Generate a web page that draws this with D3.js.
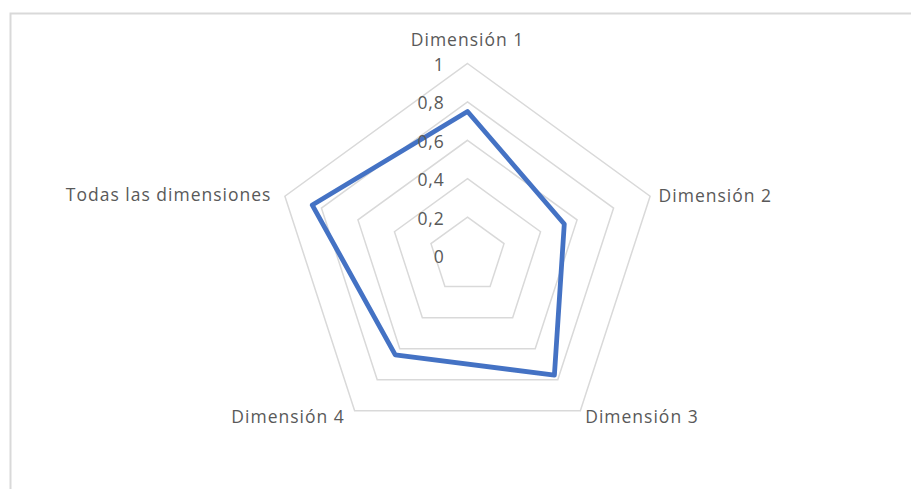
<!DOCTYPE html>
<html>
<head>
<meta charset="utf-8">
<script src="https://cdn.jsdelivr.net/npm/d3@7"></script>
<style>
  html, body { margin: 0; padding: 0; background: #fff; }
  svg text { font-family: "Open Sans", sans-serif; fill: #595959; }
</style>
</head>
<body>
<svg id="radar" width="911" height="489"></svg>
<script>
    // chart data
    var categories = ["Dimensión 1", "Dimensión 2", "Dimensión 3", "Dimensión 4", "Todas las dimensiones"];
    var values = [0.75, 0.53, 0.77, 0.64, 0.85];
    var ticks = [0, 0.2, 0.4, 0.6, 0.8, 1];
    var tickLabels = ["0", "0,2", "0,4", "0,6", "0,8", "1"];

    var width = 911, height = 489;
    var cx = 467.5, cy = 255.5, radius = 192;

    var svg = d3.select('#radar');

    // chart area frame
    svg.append('rect')
        .attr('x', 10.5).attr('y', 13.5)
        .attr('width', 940).attr('height', 520)
        .attr('fill', 'none')
        .attr('stroke', '#d9d9d9')
        .attr('stroke-width', 2);

    var g = svg.append('g')
        .attr('transform', 'translate(' + cx + ',' + cy + ')');

    var r = d3.scaleLinear().domain([0, 1]).range([0, radius]);
    var angle = d3.scalePoint().domain(categories).range([0, 2 * Math.PI * 4 / 5]);

    // grid pentagons
    var ring = d3.lineRadial()
        .angle(function (d) { return angle(d.c); })
        .radius(function (d) { return r(d.v); })
        .curve(d3.curveLinearClosed);

    g.selectAll('path.grid')
        .data(ticks.slice(1))
        .enter().append('path')
        .attr('class', 'grid')
        .attr('d', function (t) { return ring(categories.map(function (c) { return {c: c, v: t}; })); })
        .attr('fill', 'none')
        .attr('stroke', '#d9d9d9')
        .attr('stroke-width', 1.5);

    // data series
    g.append('path')
        .attr('d', ring(categories.map(function (c, i) { return {c: c, v: values[i]}; })))
        .attr('fill', 'none')
        .attr('stroke', '#4472C4')
        .attr('stroke-width', 4.8)
        .attr('stroke-linejoin', 'round');

    // value axis labels
    g.selectAll('text.tick')
        .data(ticks)
        .enter().append('text')
        .attr('class', 'tick')
        .attr('x', -23)
        .attr('y', function (t) { return -r(t) + 7.5; })
        .attr('text-anchor', 'end')
        .style('font-size', '17.5px')
        .style('letter-spacing', '0.8px')
        .text(function (t, i) { return tickLabels[i]; });

    // category labels
    g.selectAll('text.cat')
        .data(categories)
        .enter().append('text')
        .attr('class', 'cat')
        .each(function (c) {
            var a = angle(c), lr = radius + 10;
            var x = lr * Math.sin(a), y = -lr * Math.cos(a);
            var s = Math.sin(a), anchor = 'middle', dy = 0;
            if (Math.abs(s) < 0.01) { anchor = 'middle'; dy = -7.5; }
            else if (s > 0) { anchor = 'start'; x -= 1; dy = Math.cos(a) > 0 ? 9 : 4.5; }
            else { anchor = 'end'; x -= 4; dy = Math.cos(a) > 0 ? 8 : 4.5; }
            d3.select(this)
                .attr('x', x).attr('y', y + dy)
                .attr('text-anchor', anchor);
        })
        .style('font-size', '17.5px')
        .style('letter-spacing', '1px')
        .text(function (c) { return c; });
</script>
</body>
</html>
